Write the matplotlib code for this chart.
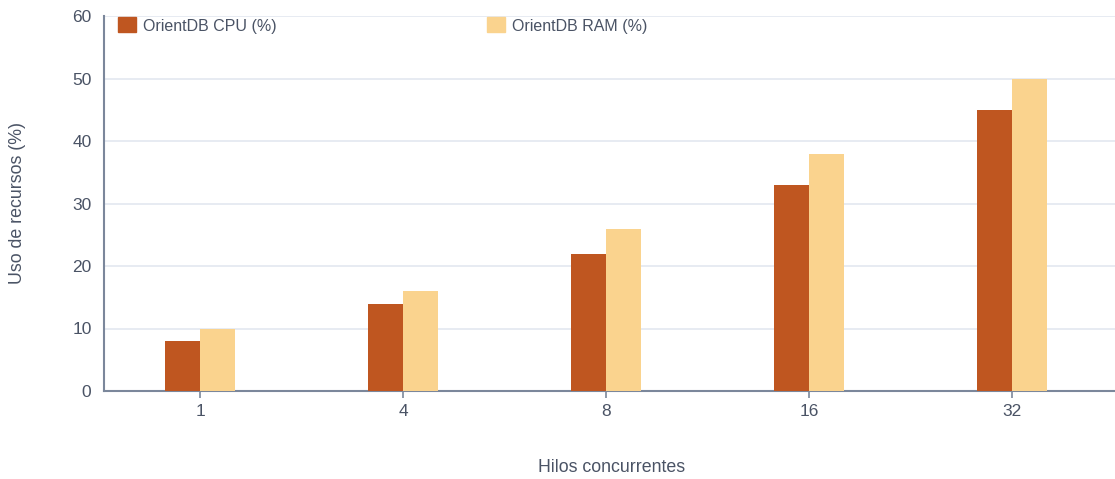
import matplotlib
matplotlib.use("Agg")
import matplotlib.pyplot as plt
from matplotlib.patches import Rectangle
import numpy as np

threads = ["1", "4", "8", "16", "32"]
cpu_pct = [8, 14, 22, 33, 45]
ram_pct = [10, 16, 26, 38, 50]
y_ticks = [0, 10, 20, 30, 40, 50, 60]

cpu_color = "#bf5620"
ram_color = "#fad38e"
axis_color = "#7b879b"
grid_color = "#e3e8f0"
text_color = "#4a5365"

plt.rcParams["font.family"] = ["Liberation Sans", "DejaVu Sans"]

fig = plt.figure(figsize=(11.15, 4.79), dpi=100)
ax = fig.add_axes([104 / 1115, 1 - 391 / 479, (1115 - 104) / 1115, (391 - 16) / 479])

x = np.arange(len(threads))
w = 0.172
ax.bar(x - w / 2, cpu_pct, width=w, color=cpu_color, zorder=3)
ax.bar(x + w / 2, ram_pct, width=w, color=ram_color, zorder=3)

ax.set_xlim(-0.473, 4.507)
ax.set_ylim(0, 60)
ax.set_yticks(y_ticks)
ax.set_xticks(x)
ax.set_xticklabels(threads)
ax.yaxis.grid(True, color=grid_color, linewidth=1.2, zorder=0)
ax.set_axisbelow(True)

for s in ["top", "right"]:
    ax.spines[s].set_visible(False)
for s in ["left", "bottom"]:
    ax.spines[s].set_color(axis_color)
    ax.spines[s].set_linewidth(1.5)

ax.tick_params(axis="y", length=0, pad=9, labelsize=12.5, labelcolor=text_color)
ax.tick_params(axis="x", length=5, width=1.2, color=axis_color, pad=4,
               labelsize=12.5, labelcolor=text_color)

fig.text(18 / 1115, 1 - 203 / 479, "Uso de recursos (%)", rotation=90,
         ha="center", va="center", fontsize=12.8, color=text_color)
fig.text(612 / 1115, 1 - 467 / 479, "Hilos concurrentes",
         ha="center", va="center", fontsize=12.8, color=text_color)

# legend entries placed along the top of the plot area
for px, label, col in [(118, "OrientDB CPU (%)", cpu_color),
                       (487, "OrientDB RAM (%)", ram_color)]:
    fig.patches.append(Rectangle((px / 1115, 1 - 32 / 479), 18 / 1115, 15 / 479,
                                 transform=fig.transFigure, color=col, zorder=5))
    fig.text((px + 25) / 1115, 1 - 26 / 479, label, ha="left", va="center",
             fontsize=11.5, color=text_color)

fig.savefig("out.png", dpi=100, facecolor="white")
